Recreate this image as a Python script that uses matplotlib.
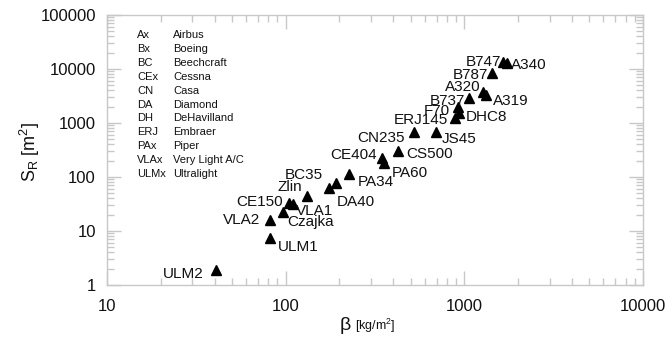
import matplotlib
matplotlib.use('Agg')
import matplotlib.pyplot as plt

plt.rcParams['font.family'] = ['Liberation Sans', 'DejaVu Sans']
plt.rcParams['mathtext.fontset'] = 'custom'
plt.rcParams['mathtext.rm'] = 'Liberation Sans'
plt.rcParams['mathtext.it'] = 'Liberation Sans'

# aircraft, wing loading beta [kg/m2] and reference area S_R [m2]
names = ['ULM2', 'ULM1', 'VLA2', 'Czajka', 'CE150', 'VLA1', 'Zlin', 'BC35', 'DA40',
         'PA34', 'CE404', 'PA60', 'CS500', 'CN235', 'JS45', 'ERJ145', 'F70', 'DHC8',
         'B737', 'A320', 'A319', 'B787', 'B747', 'A340']
beta = [41, 82, 82, 97, 105, 110, 131, 191, 175,
        227, 347, 357, 424, 522, 690, 885, 925, 935,
        1064, 1276, 1321, 1432, 1650, 1725]
s_r = [1.9, 7.3, 16, 22.8, 33.4, 31.6, 44.5, 76, 62,
       112, 222, 184, 307, 690, 690, 1250, 1960, 1550,
       2870, 3800, 3300, 8300, 13650, 12760]

abbrev = ['Ax', 'Bx', 'BC', 'CEx', 'CN', 'DA', 'DH', 'ERJ', 'PAx', 'VLAx', 'ULMx']
makers = ['Airbus', 'Boeing', 'Beechcraft', 'Cessna', 'Casa', 'Diamond', 'DeHavilland',
          'Embraer', 'Piper', 'Very Light A/C', 'Ultralight']

# label offsets in pixels (dx, dy, alignment)
offsets = {
    'ULM2': (-13, -4, 'right'), 'ULM1': (8, -9, 'left'), 'VLA2': (-10, 0, 'right'),
    'Czajka': (4, -10, 'left'), 'CE150': (-7, 1, 'right'), 'VLA1': (3, -7, 'left'),
    'Zlin': (-4, 9, 'right'), 'BC35': (-13, 8, 'right'), 'DA40': (8, -14, 'left'),
    'PA34': (8, -8, 'left'), 'CE404': (-5, 3, 'right'), 'PA60': (7, -10, 'left'),
    'CS500': (8, -3, 'left'), 'CN235': (-9, -6, 'right'), 'JS45': (6, -7, 'left'),
    'ERJ145': (-7, -2, 'right'), 'F70': (-8, -4, 'right'), 'DHC8': (7, -4, 'left'),
    'B737': (-4, -3, 'right'), 'A320': (-3, 5, 'right'), 'A319': (7, -6, 'left'),
    'B787': (-4, -2, 'right'), 'B747': (-2, 0, 'right'), 'A340': (4, -2, 'left'),
}

W, H = 667, 343
grey = '#c8c8c8'
ink = '#111111'

fig = plt.figure(figsize=(W / 100, H / 100), dpi=100, facecolor='w')
ax = fig.add_axes([107 / W, 1 - 285 / H, (643 - 107) / W, (285 - 15) / H])

ax.plot(beta, s_r, '^', color='black', markersize=7, linestyle='none')

for n, x, y in zip(names, beta, s_r):
    dx, dy, ha = offsets[n]
    ax.annotate(n, (x, y), xytext=(dx, dy), textcoords='offset pixels',
                ha=ha, va='center', fontsize=11, color=ink)

ax.set_xscale('log')
ax.set_yscale('log')
ax.set_xlim(10, 10000)
ax.set_ylim(1, 100000)
ax.set_xticks([10, 100, 1000, 10000])
ax.set_xticklabels(['10', '100', '1000', '10000'])
ax.set_yticks([1, 10, 100, 1000, 10000, 100000])
ax.set_yticklabels(['1', '10', '100', '1000', '10000', '100000'])

for s in ax.spines.values():
    s.set_color(grey)
    s.set_linewidth(1.0)
ax.tick_params(which='both', direction='in', color=grey, top=True, right=True,
               labelsize=12, labelcolor=ink)
ax.tick_params(which='major', length=10, width=1, pad=8)
ax.tick_params(axis='x', which='major', pad=10)
ax.tick_params(which='minor', length=5, width=1)

# legend of manufacturer codes
for i, (a, m) in enumerate(zip(abbrev, makers)):
    y = 35 + i * 13.9
    fig.text(137 / W, 1 - y / H, a, fontsize=8, va='center', color=ink)
    fig.text(173 / W, 1 - y / H, m, fontsize=8, va='center', color=ink)

fig.text(30 / W, 1 - 152 / H, r'S$_\mathrm{R}$ [m$^2$]', rotation=90,
         ha='center', va='center', fontsize=13, color=ink)
fig.text(345 / W, 1 - 326 / H, 'β', ha='center', va='center', fontsize=14, color=ink)
fig.text(355 / W, 1 - 326 / H, '[kg/m$^2$]', ha='left', va='center', fontsize=9, color=ink)

plt.savefig('out.png', dpi=100)
